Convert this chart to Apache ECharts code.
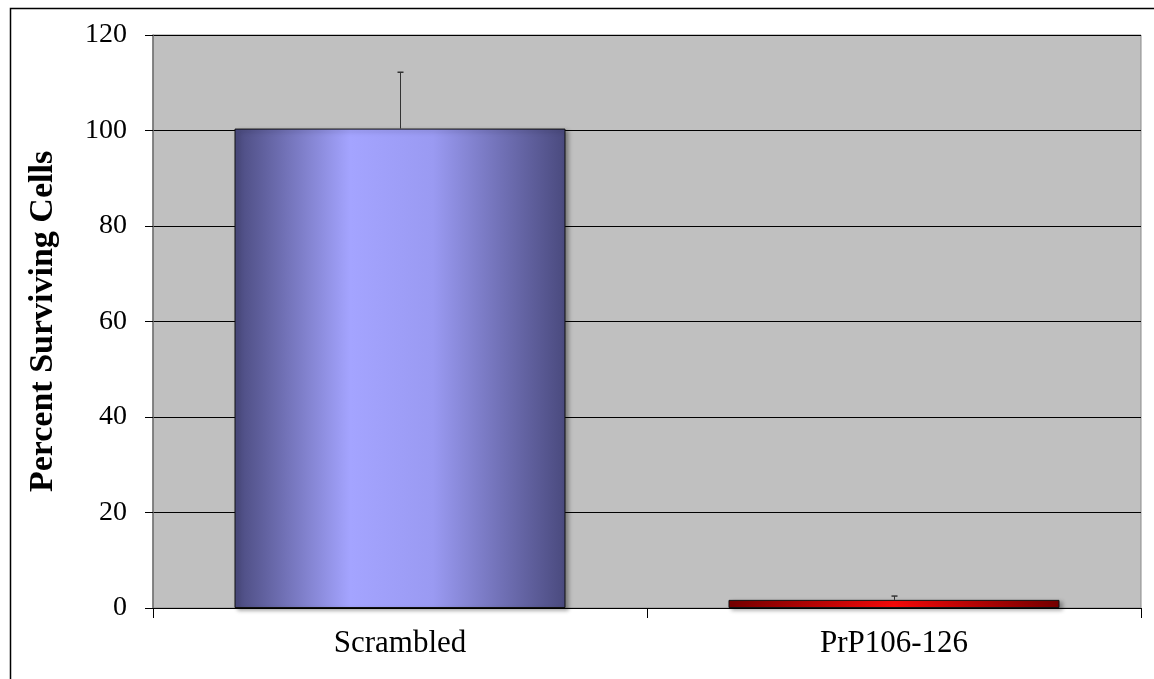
<!DOCTYPE html>
<html>
<head>
<meta charset="utf-8">
<script src="https://cdn.jsdelivr.net/npm/echarts@6/dist/echarts.min.js"></script>
<style>
  html, body { margin: 0; padding: 0; background: #fff; }
  #main { width: 1154px; height: 679px; }
</style>
</head>
<body>
<div id="main"></div>
<script>
// data
var categories = ['Scrambled', 'PrP106-126'];
var percentSurviving = [100.4, 1.7];
var errorUpper = [112.2, 2.5];
var yTicks = [0, 20, 40, 60, 80, 100, 120];

var font = '"Liberation Serif", "Times New Roman", serif';

var gradients = [
    new echarts.graphic.LinearGradient(0, 0, 1, 0, [
        { offset: 0, color: '#4a4a7e' },
        { offset: 0.35, color: '#a4a4ff' },
        { offset: 0.6, color: '#9a9af2' },
        { offset: 1, color: '#4a4a7e' }
    ]),
    new echarts.graphic.LinearGradient(0, 0, 1, 0, [
        { offset: 0, color: '#7a0000' },
        { offset: 0.5, color: '#ff0a0a' },
        { offset: 1, color: '#7a0000' }
    ])
];

var myChart = echarts.init(document.getElementById('main'));
window.onresize = myChart.resize;

myChart.setOption({
    animation: false,
    backgroundColor: '#fff',
    graphic: [{
        type: 'rect',
        left: 8, top: 6,
        shape: { width: 1200, height: 700 },
        style: { fill: 'none', stroke: '#000', lineWidth: 1.5 },
        z: 100
    }],
    grid: {
        left: 153, right: 13, top: 35, bottom: 71,
        show: true,
        backgroundColor: '#c0c0c0',
        borderColor: '#8c8c8c',
        borderWidth: 1
    },
    xAxis: {
        type: 'category',
        data: categories,
        axisLine: { lineStyle: { color: '#000', width: 1 } },
        axisTick: { show: true, length: 10, lineStyle: { color: '#000' } },
        axisLabel: { color: '#000', fontFamily: font, fontSize: 31, margin: 20 }
    },
    yAxis: {
        type: 'value',
        min: yTicks[0],
        max: yTicks[yTicks.length - 1],
        interval: 20,
        name: 'Percent Surviving Cells',
        nameLocation: 'middle',
        nameGap: 93,
        nameTextStyle: { color: '#000', fontFamily: font, fontSize: 34, fontWeight: 'bold' },
        axisLine: { show: true, lineStyle: { color: '#707070', width: 1.5 } },
        axisTick: { show: true, length: 8, lineStyle: { color: '#000' } },
        axisLabel: { color: '#000', fontFamily: font, fontSize: 28, margin: 26 },
        splitLine: { show: true, lineStyle: { color: '#000', width: 1 } }
    },
    series: [{
        type: 'bar',
        data: percentSurviving.map(function (v, i) {
            return {
                value: v,
                itemStyle: {
                    color: gradients[i],
                    borderColor: '#111',
                    borderWidth: 1,
                    shadowColor: 'rgba(0,0,0,0.35)',
                    shadowBlur: 4,
                    shadowOffsetX: 3,
                    shadowOffsetY: 2
                }
            };
        }),
        barWidth: '67%',
        z: 3
    }, {
        type: 'custom',
        data: categories.map(function (c, i) { return [i, percentSurviving[i], errorUpper[i]]; }),
        z: 4,
        renderItem: function (params, api) {
            var base = api.coord([api.value(0), api.value(1)]);
            var top = api.coord([api.value(0), api.value(2)]);
            var x = Math.round(base[0]) + 0.5;
            return {
                type: 'group',
                children: [{
                    type: 'line',
                    shape: { x1: x, y1: base[1], x2: x, y2: top[1] },
                    style: { stroke: '#333', lineWidth: 1 }
                }, {
                    type: 'line',
                    shape: { x1: x - 3, y1: top[1], x2: x + 3, y2: top[1] },
                    style: { stroke: '#333', lineWidth: 1.5 }
                }]
            };
        }
    }]
});
</script>
</body>
</html>
